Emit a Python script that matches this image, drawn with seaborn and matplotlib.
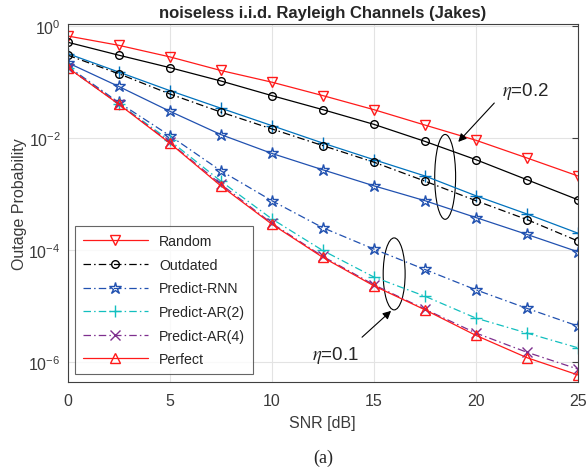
import matplotlib
matplotlib.use("Agg")
import matplotlib.pyplot as plt
from matplotlib.patches import Ellipse
import seaborn as sns
import numpy as np
import pandas as pd

# SNR grid [dB]
snr = [0, 2.5, 5, 7.5, 10, 12.5, 15, 17.5, 20, 22.5, 25]

# outage probability
random_ = [0.66, 0.45, 0.28, 0.16, 0.099, 0.057, 0.032, 0.017, 0.0091, 0.0044, 0.0021]
outdated_02 = [0.51, 0.30, 0.18, 0.104, 0.057, 0.032, 0.0175, 0.0087, 0.0041, 0.0018, 7.9e-4]
ar2_02 = [0.32, 0.15, 0.07, 0.034, 0.0166, 0.0081, 0.0041, 0.0021, 9.3e-4, 4.4e-4, 2.0e-4]
rnn_02 = [0.22, 0.083, 0.030, 0.0115, 0.0053, 0.0027, 0.0014, 7.6e-4, 3.8e-4, 1.9e-4, 9.3e-5]
outdated_01 = [0.30, 0.14, 0.061, 0.029, 0.0145, 0.0073, 0.0037, 0.0017, 7.6e-4, 3.5e-4, 1.45e-4]
rnn_01 = [0.19, 0.043, 0.011, 0.0026, 7.6e-4, 2.5e-4, 1.04e-4, 4.5e-5, 1.95e-5, 9.1e-6, 4.4e-6]
ar2_01 = [0.18, 0.041, 0.009, 0.0017, 3.6e-4, 9.8e-5, 3.3e-5, 1.5e-5, 6.1e-6, 3.3e-6, 1.8e-6]
ar4_01 = [0.18, 0.041, 0.0083, 0.0015, 3.0e-4, 7.7e-5, 2.4e-5, 8.8e-6, 3.3e-6, 1.5e-6, 7.5e-7]
perfect = [0.18, 0.040, 0.0081, 0.0014, 2.9e-4, 7.4e-5, 2.3e-5, 8.6e-6, 3.0e-6, 1.2e-6, 5.9e-7]

sns.set_style("white")
plt.rcParams["font.family"] = ["Liberation Sans", "DejaVu Sans"]
plt.rcParams["mathtext.fontset"] = "stix"

fig = plt.figure(figsize=(5.86, 4.77), dpi=100)
ax = fig.add_axes([0.1155, 0.197, 0.8705, 0.7506])

DD = (0, (6, 2.5, 1.2, 2.5))
RED = "#FF1A1A"
BLUE = "#2151B0"
LBLUE = "#0072BD"
CYAN = "#12BFBF"
PURPLE = "#7E2F8E"

series = [
    # (values, label, color, marker, size, linestyle)
    (random_, "Random", RED, "v", 7, "-"),
    (outdated_02, None, "black", "o", 5.5, "-"),
    (ar2_02, None, LBLUE, "+", 9, "-"),
    (outdated_01, "Outdated", "black", "o", 5.5, DD),
    (rnn_02, None, BLUE, "*", 9, "-"),
    (rnn_01, "Predict-RNN", BLUE, "*", 9, DD),
    (ar2_01, "Predict-AR(2)", CYAN, "+", 9, DD),
    (ar4_01, "Predict-AR(4)", PURPLE, "x", 7, DD),
    (perfect, "Perfect", RED, "^", 7.5, "-"),
]

handles = {}
for vals, label, color, marker, ms, ls in series:
    df = pd.DataFrame({"snr": snr, "p": vals})
    sns.lineplot(data=df, x="snr", y="p", ax=ax, color=color, marker=marker,
                 markersize=ms, mfc="none", mec=color, mew=1.0, lw=0.9,
                 linestyle=ls, legend=False)
    if label is not None:
        handles[label] = ax.lines[-1]

ax.set_yscale("log")
ax.set_xlim(0, 25)
ax.set_ylim(4.4e-7, 1.08)
ax.set_xticks([0, 5, 10, 15, 20, 25])
ax.set_yticks([1e-6, 1e-4, 1e-2, 1e0])
ax.yaxis.set_minor_locator(matplotlib.ticker.NullLocator())
ax.grid(True, color="#E3E3E3", lw=0.8)
ax.set_axisbelow(True)
for s in ax.spines.values():
    s.set_color("#404040")
    s.set_linewidth(0.8)
ax.tick_params(direction="in", length=4, width=0.8, colors="#404040",
               labelcolor="#3a3a3a", labelsize=11.5, top=False, right=True)
ax.tick_params(axis="x", pad=8)
ax.tick_params(axis="y", pad=5)

ax.set_title("noiseless i.i.d. Rayleigh Channels (Jakes)", fontsize=12,
             fontweight="bold", pad=5)
ax.set_xlabel("SNR [dB]", fontsize=11.5, color="#3a3a3a", labelpad=5)
ax.set_ylabel("Outage Probability", fontsize=11.5, color="#3a3a3a", labelpad=1)

order = ["Random", "Outdated", "Predict-RNN", "Predict-AR(2)", "Predict-AR(4)", "Perfect"]
leg = ax.legend([handles[k] for k in order], order, loc="lower left",
                bbox_to_anchor=(0.014, 0.022), borderaxespad=0, fontsize=10.2,
                handlelength=4.6, labelspacing=0.68, frameon=True,
                fancybox=False, edgecolor="#404040", borderpad=0.55,
                handletextpad=0.8)
leg.get_frame().set_linewidth(0.8)

# eta annotations
ax.add_patch(Ellipse((0.740, 0.573), 0.041, 0.237, transform=ax.transAxes,
                     fill=False, ec="black", lw=0.8))
ax.add_patch(Ellipse((0.640, 0.302), 0.043, 0.201, transform=ax.transAxes,
                     fill=False, ec="black", lw=0.8))
ax.annotate("", xy=(0.762, 0.665), xytext=(0.840, 0.785), xycoords="axes fraction",
            arrowprops=dict(arrowstyle="-|>", color="black", lw=0.8, mutation_scale=12))
ax.annotate("", xy=(0.638, 0.204), xytext=(0.573, 0.120), xycoords="axes fraction",
            arrowprops=dict(arrowstyle="-|>", color="black", lw=0.8, mutation_scale=12))
ax.text(0.852, 0.813, r"$\eta$=0.2", transform=ax.transAxes, fontsize=13.5,
        va="center", ha="left")
ax.text(0.479, 0.078, r"$\eta$=0.1", transform=ax.transAxes, fontsize=13.5,
        va="center", ha="left")

fig.text(0.551, 0.040, "(a)", fontsize=13, ha="center", va="center",
         family="Liberation Serif")

fig.savefig("out.png", dpi=100)
plt.close(fig)
